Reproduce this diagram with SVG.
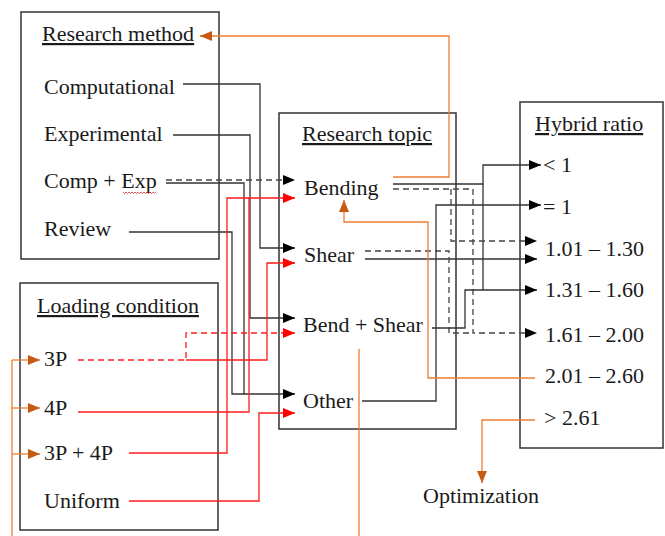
<svg xmlns="http://www.w3.org/2000/svg" width="665" height="536" viewBox="0 0 665 536">
<defs>
<style>
.box{fill:none;stroke:#333;stroke-width:1.5}
.t{font-family:"Liberation Serif","Times New Roman",serif;font-size:22px;fill:#1a1a1a}
.u{text-decoration:underline}
.k{fill:none;stroke:#333;stroke-width:1.3}
.kd{fill:none;stroke:#444;stroke-width:1.3;stroke-dasharray:6 4}
.r{fill:none;stroke:#ff1a1a;stroke-width:1.3}
.rd{fill:none;stroke:#ff1a1a;stroke-width:1.3;stroke-dasharray:6 4}
.o{fill:none;stroke:#ed7d31;stroke-width:1.3}
.ka{marker-end:url(#ak)}
.ra{marker-end:url(#ar)}
.oa{marker-end:url(#ao)}
</style>
<marker id="ak" markerUnits="userSpaceOnUse" markerWidth="12" markerHeight="10" refX="12" refY="5" orient="auto"><path d="M0,0 L12,5 L0,10 Z" fill="#000"/></marker>
<marker id="ar" markerUnits="userSpaceOnUse" markerWidth="12" markerHeight="10" refX="12" refY="5" orient="auto"><path d="M0,0 L12,5 L0,10 Z" fill="#ff0000"/></marker>
<marker id="ao" markerUnits="userSpaceOnUse" markerWidth="12" markerHeight="10" refX="12" refY="5" orient="auto"><path d="M0,0 L12,5 L0,10 Z" fill="#c55a11"/></marker>
</defs>
<rect width="665" height="536" fill="#fff"/>

<g id="research-method">
<rect class="box" x="21" y="12" width="198" height="247"/>
<text class="t u" x="42" y="41">Research method</text>
<text class="t" x="44" y="94">Computational</text>
<text class="t" x="44" y="141">Experimental</text>
<text class="t" x="44" y="188">Comp + Exp</text>
<path d="M123,192 l1.5,1.5 l1.5,-1.5 l1.5,1.5 l1.5,-1.5 l1.5,1.5 l1.5,-1.5 l1.5,1.5 l1.5,-1.5 l1.5,1.5 l1.5,-1.5 l1.5,1.5 l1.5,-1.5 l1.5,1.5 l1.5,-1.5 l1.5,1.5 l1.5,-1.5 l1.5,1.5 l1.5,-1.5 l1.5,1.5 l1.5,-1.5 l1.5,1.5 l1.5,-1.5" fill="none" stroke="#e03030" stroke-width="0.8"/>
<text class="t" x="44" y="236">Review</text>
</g>

<g id="loading-condition">
<rect class="box" x="20" y="283" width="198" height="247"/>
<text class="t u" x="37" y="313">Loading condition</text>
<text class="t" x="44" y="366">3P</text>
<text class="t" x="44" y="415">4P</text>
<text class="t" x="44" y="460">3P + 4P</text>
<text class="t" x="44" y="508">Uniform</text>
</g>

<g id="research-topic">
<rect class="box" x="279" y="113" width="177" height="316"/>
<text class="t u" x="302" y="141">Research topic</text>
<text class="t" x="304" y="195">Bending</text>
<text class="t" x="304" y="262">Shear</text>
<text class="t" x="303" y="332">Bend + Shear</text>
<text class="t" x="303" y="408">Other</text>
</g>

<g id="hybrid-ratio">
<rect class="box" x="520" y="102" width="143" height="346"/>
<text class="t u" x="535" y="131">Hybrid ratio</text>
<text class="t" x="543" y="172">&lt; 1</text>
<text class="t" x="543" y="214">= 1</text>
<text class="t" x="545" y="256">1.01 – 1.30</text>
<text class="t" x="545" y="297">1.31 – 1.60</text>
<text class="t" x="545" y="342">1.61 – 2.00</text>
<text class="t" x="545" y="383">2.01 – 2.60</text>
<text class="t" x="544" y="425">&gt; 2.61</text>
</g>

<g id="optimization">
<text class="t" x="423" y="503">Optimization</text>
</g>

<g id="connectors">
<!-- research method to topic -->
<path class="k ka" d="M183,84 H260 V248 H295"/>
<path class="k ka" d="M173,135 H250 V318 H295"/>
<path class="kd ka" d="M166,180 H295"/>
<path class="k ka" d="M166,183 H244 V394 H295"/>
<path class="k" d="M129,232 H232 V394 H244"/>
<!-- loading condition to topic -->
<path class="rd ra" d="M78,360 H186 V333 H295"/>
<path class="r ra" d="M186,360 H267 V263 H295"/>
<path class="r ra" d="M78,412 H249 V198 H295"/>
<path class="r" d="M129,453 H227 V198 H249"/>
<path class="r ra" d="M129,501 H259 V413 H295"/>
<!-- topic to hybrid ratio -->
<path class="k ka" d="M393,184 H483 V165 H541"/>
<path class="k ka" d="M483,184 V290 H537"/>
<path class="kd ka" d="M393,189 H473 V333 H537"/>
<path class="kd ka" d="M451,189 V241 H537"/>
<path class="k ka" d="M365,259 H537"/>
<path class="kd" d="M365,251 H449 V333 H473"/>
<path class="k" d="M432,328 H465 V290 H483"/>
<path class="k ka" d="M362,401 H436 V205 H541"/>
<!-- orange -->
<path class="o oa" d="M393,177 H449 V36 H200"/>
<path class="o oa" d="M535,378 H428 V222 H344 V200"/>
<path class="o oa" d="M535,420 H482 V483"/>
<path class="o" d="M359,349 V536"/>
<path class="o" d="M12,536 V360"/>
<path class="o oa" d="M12,360 H40"/>
<path class="o oa" d="M12,408 H40"/>
<path class="o oa" d="M12,454 H40"/>
</g>
</svg>
